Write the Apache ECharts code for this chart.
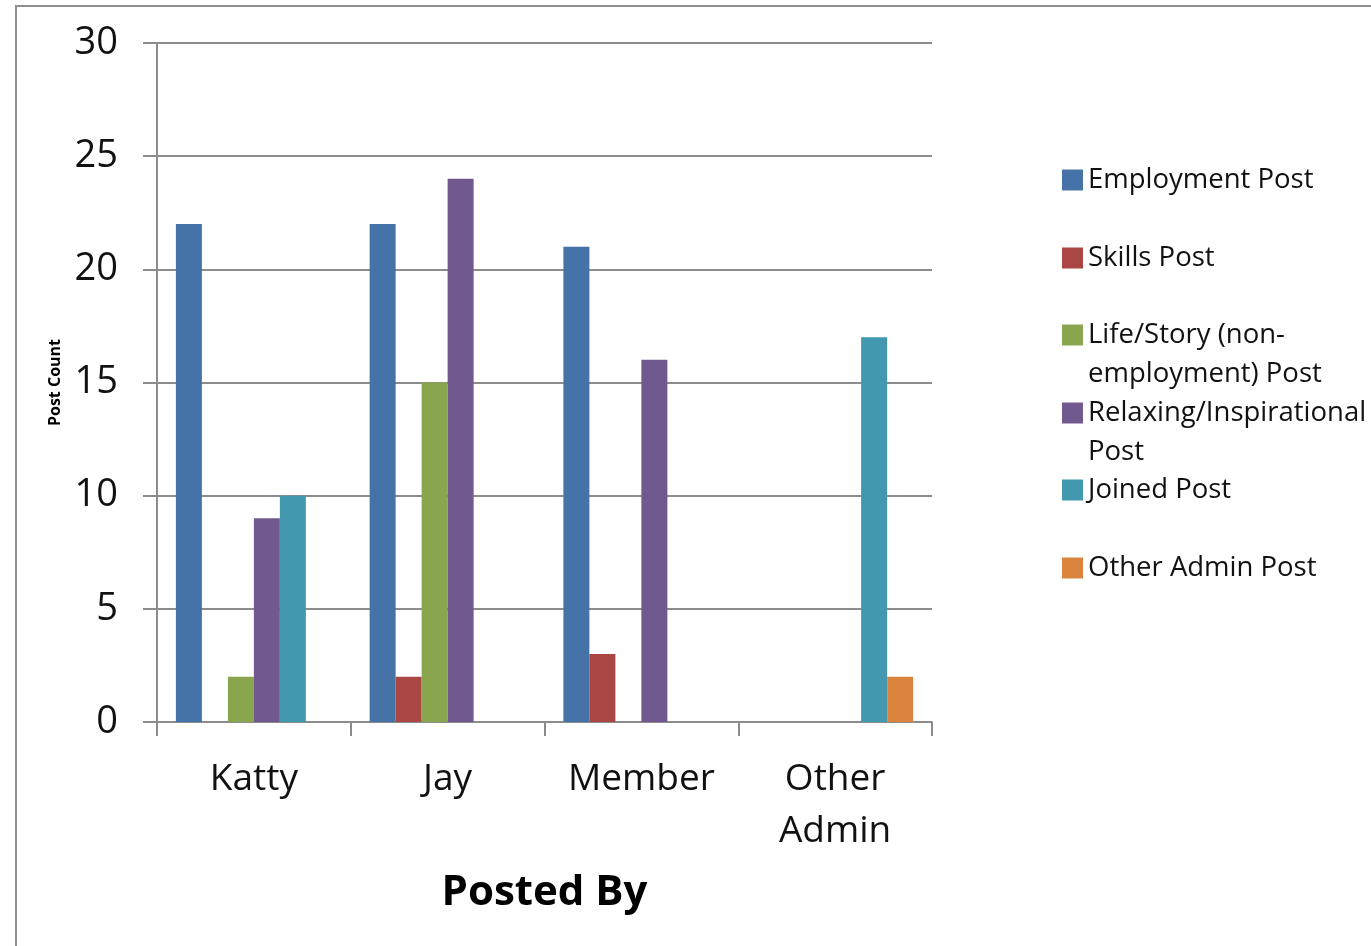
<!DOCTYPE html>
<html>
<head>
<meta charset="utf-8">
<script src="https://cdn.jsdelivr.net/npm/echarts@6/dist/echarts.min.js"></script>
<style>
  html, body { margin: 0; padding: 0; background: #fff; }
  #chart { width: 1371px; height: 946px; }
</style>
</head>
<body>
<div id="chart"></div>
<script>
const categories = ['Katty', 'Jay', 'Member', 'Other\nAdmin'];
const seriesNames = ['Employment Post', 'Skills Post', 'Life/Story (non-employment) Post', 'Relaxing/Inspirational Post', 'Joined Post', 'Other Admin Post'];
const legendLabels = ['Employment Post', 'Skills Post', '\nLife/Story (non-\nemployment) Post', '\nRelaxing/Inspirational\nPost', 'Joined Post', 'Other Admin Post'];
const employmentPost = [22, 22, 21, 0];
const skillsPost = [0, 2, 3, 0];
const lifeStoryPost = [2, 15, 0, 0];
const relaxingPost = [9, 24, 16, 0];
const joinedPost = [10, 0, 0, 17];
const otherAdminPost = [0, 0, 0, 2];
const yTicks = [0, 5, 10, 15, 20, 25, 30];

const colors = ['#4572A7', '#AA4643', '#89A54E', '#71588F', '#4198AF', '#DB843D'];
const seriesData = [employmentPost, skillsPost, lifeStoryPost, relaxingPost, joinedPost, otherAdminPost];
const FONT = 'Open Sans';
const legendCenters = [180, 258, 335, 413, 490, 568];
const LH = 39;

const legends = seriesNames.map((name, i) => {
  const multi = legendLabels[i].startsWith('\n');
  return {
    data: [name],
    left: 1062,
    top: multi ? legendCenters[i] - LH * 1.5 : legendCenters[i] - LH / 2,
    padding: 0,
    itemWidth: 21,
    itemHeight: 21,
    itemGap: 0,
    icon: 'rect',
    selectedMode: false,
    formatter: () => legendLabels[i],
    textStyle: { fontFamily: FONT, fontSize: 27.5, color: '#111', lineHeight: LH }
  };
});

const chart = echarts.init(document.getElementById('chart'), null, { renderer: 'canvas' });
chart.setOption({
  animation: false,
  color: colors,
  backgroundColor: '#fff',
  graphic: [{
    type: 'rect',
    shape: { x: 16, y: 6, width: 1500, height: 1100 },
    style: { fill: 'none', stroke: '#8f8f8f', lineWidth: 2 },
    silent: true
  }],
  legend: legends,
  grid: { left: 157, right: 439, top: 43, bottom: 224, containLabel: false },
  xAxis: {
    type: 'category',
    data: categories,
    name: 'Posted By',
    nameLocation: 'middle',
    nameGap: 150,
    nameTextStyle: { fontFamily: FONT, fontSize: 42, fontWeight: 'bold', color: '#000' },
    axisLine: { lineStyle: { color: '#8c8c8c', width: 2 } },
    axisTick: { show: true, length: 14, lineStyle: { color: '#8c8c8c', width: 2 } },
    axisLabel: { fontFamily: FONT, fontSize: 37, color: '#111', margin: 31, lineHeight: 52 }
  },
  yAxis: {
    type: 'value',
    min: 0, max: 30, interval: 5,
    name: 'Post Count',
    nameLocation: 'middle',
    nameRotate: 90,
    nameGap: 93,
    nameTextStyle: { fontFamily: FONT, fontSize: 16, fontWeight: 'bold', color: '#000' },
    axisLine: { show: true, lineStyle: { color: '#8c8c8c', width: 2 } },
    axisTick: { show: true, length: 14, lineStyle: { color: '#8c8c8c', width: 2 } },
    splitLine: { show: true, lineStyle: { color: '#8c8c8c', width: 2 } },
    axisLabel: {
      fontFamily: FONT, fontSize: 38, color: '#111', margin: 39,
      formatter: v => yTicks.includes(v) ? String(v) : ''
    }
  },
  series: seriesNames.map((name, i) => ({
    name,
    type: 'bar',
    data: seriesData[i],
    barGap: '0%',
    barCategoryGap: '19.5%',
    itemStyle: { color: colors[i] }
  }))
});
</script>
</body>
</html>
